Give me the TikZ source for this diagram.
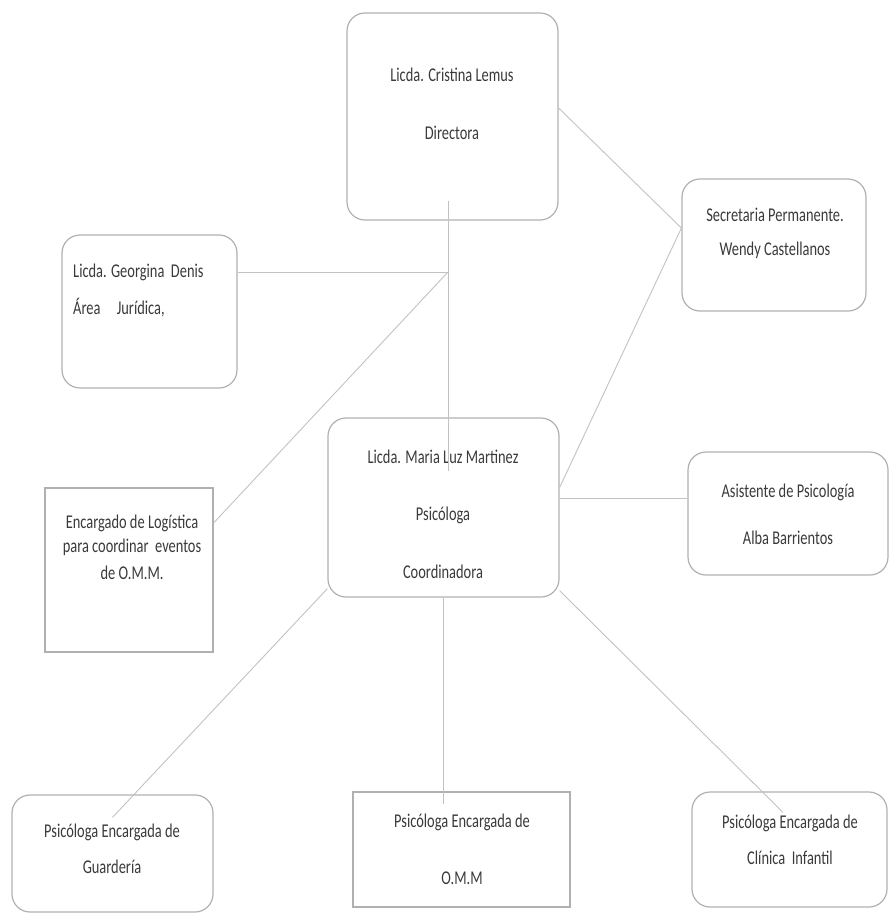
\documentclass[tikz,border=0pt]{standalone}
\usepackage{fontspec}
\setmainfont{Carlito}
\newfontfamily\orgfont[FakeStretch=0.74]{Carlito}
\usetikzlibrary{calc}
\definecolor{orgBorder}{HTML}{B0B0B0}
\definecolor{orgLine}{HTML}{C2C2C2}
\definecolor{orgInk}{HTML}{3A3A3A}

\begin{document}
\begin{tikzpicture}[
            x=1pt, y=-1pt,
            orgbox/.style={
                draw=orgBorder,
                line width=1.2pt,
                rounded corners=18pt,
                inner sep=0pt
            },
            squarebox/.style={
                orgbox,
                sharp corners
            },
            orgtext/.style={
                font=\orgfont\fontsize{19.5}{21}\selectfont,
                text=orgInk,
                inner sep=0pt
            },
            orgline/.style={
                draw=orgLine,
                line width=0.9pt
            }
        ]

        \useasboundingbox (0,0) rectangle (889,914);

        % --- Boxes ---
        \node[orgbox, minimum width=211pt, minimum height=207pt]
            (directora) at (452.5,116.5) {};
        \node[orgbox, minimum width=175pt, minimum height=153pt]
            (georgina) at (149.5,311.5) {};
        \node[orgbox, minimum width=184pt, minimum height=132pt]
            (secretaria) at (774,245) {};
        \node[squarebox, minimum width=168pt, minimum height=164pt]
            (logistica) at (129,570) {};
        \node[orgbox, minimum width=231pt, minimum height=179pt]
            (coordinadora) at (443.5,507.5) {};
        \node[orgbox, minimum width=200pt, minimum height=123pt]
            (asistente) at (788,513.5) {};
        \node[orgbox, minimum width=201pt, minimum height=117pt]
            (guarderia) at (112.5,853.5) {};
        \node[squarebox, minimum width=217pt, minimum height=115pt]
            (omm) at (461.5,849.5) {};
        \node[orgbox, minimum width=195pt, minimum height=115pt]
            (clinica) at (789.5,849.5) {};

        % --- Texts ---
        \node[orgtext] (directoraname) at (452,75) {Licda. Cristina Lemus};
        \node[orgtext] (directorarole) at (452,133) {Directora};

        \node[orgtext, anchor=west] (georginaname) at (73,272)
            {Licda. Georgina\ \ Denis};
        \node[orgtext, anchor=west] (georginarole) at (73,308)
            {Área\ \ \ \ \ Jurídica,};

        \node[orgtext] (secretariarole) at (775,215) {Secretaria Permanente.};
        \node[orgtext] (secretarianame) at (775,250) {Wendy Castellanos};

        \node[orgtext] (logisticaone) at (132,523) {Encargado de Logística};
        \node[orgtext] (logisticatwo) at (132,547) {para coordinar\ \ eventos};
        \node[orgtext] (logisticathree) at (132,573) {de O.M.M.};

        \node[orgtext] (coordinadoraname) at (443,457) {Licda. Maria Luz Martinez};
        \node[orgtext] (coordinadoraone) at (443,515) {Psicóloga};
        \node[orgtext] (coordinadoratwo) at (443,572) {Coordinadora};

        \node[orgtext] (asistenterole) at (788,492) {Asistente de Psicología};
        \node[orgtext] (asistentename) at (788,538) {Alba Barrientos};

        \node[orgtext] (guarderiaone) at (112,832) {Psicóloga Encargada de};
        \node[orgtext] (guarderiatwo) at (112,867) {Guardería};

        \node[orgtext] (ommone) at (462,822) {Psicóloga Encargada de};
        \node[orgtext] (ommtwo) at (462,878) {O.M.M};

        \node[orgtext] (clinicaone) at (790,823) {Psicóloga Encargada de};
        \node[orgtext] (clinicatwo) at (790,858) {Clínica\ \ Infantil};

        % --- Connectors ---
        \coordinate (trunktop) at ($(directora.south)+(-4.5,-20)$);
        \coordinate (trunkend) at ($(trunktop |- coordinadora.north)+(0,54)$);
        \coordinate (hub) at (trunktop |- georginaname);
        \coordinate (asistentein) at ([yshift=15.5pt]asistente.west);
        \coordinate (ommin) at ($(coordinadora.south |- omm.north)+(0,13)$);

        \draw[orgline] (trunktop) -- (trunkend);
        \draw[orgline] (hub -| georgina.east) -- (hub);
        \draw[orgline] (hub) -- ([yshift=47pt]logistica.east);
        \draw[orgline] ([yshift=8.5pt]directora.east)
            -- ([yshift=17pt]secretaria.west);
        \draw[orgline] ([yshift=17pt]secretaria.west)
            -- ([yshift=20pt]coordinadora.east);
        \draw[orgline] (asistentein -| coordinadora.east) -- (asistentein);
        \draw[orgline] ([yshift=9pt]coordinadora.south west)
            -- ([yshift=-23pt]guarderia.north);
        \draw[orgline] (coordinadora.south) -- (ommin);
        \draw[orgline] ([yshift=7pt]coordinadora.south east)
            -- ([xshift=-6.5pt,yshift=-21pt]clinica.north);

        \end{tikzpicture}
\end{document}
